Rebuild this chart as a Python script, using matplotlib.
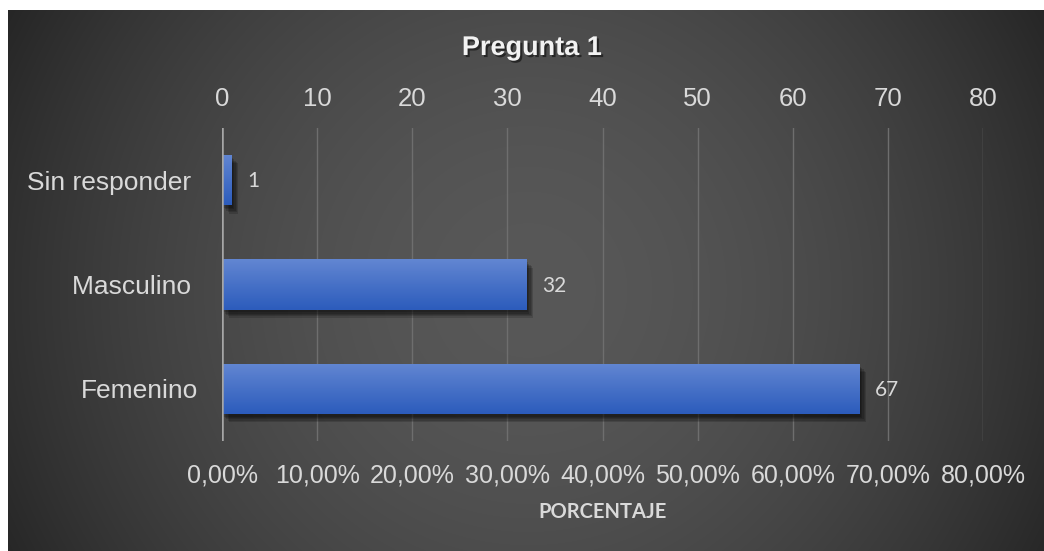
import numpy as np
import matplotlib
matplotlib.use("Agg")
import matplotlib.pyplot as plt
import matplotlib.patheffects as pe
from matplotlib.ticker import FixedLocator, FuncFormatter

plt.rcParams["font.family"] = ["Liberation Sans", "DejaVu Sans"]

# ---- data ----
categories = ["Femenino", "Masculino ", "Sin responder "]
values = [67, 32, 1]
ticks = [0, 10, 20, 30, 40, 50, 60, 70, 80]
title = "Pregunta 1"
xlabel = "PORCENTAJE"

W, H = 1044, 551
fig = plt.figure(figsize=(W / 100, H / 100), dpi=100, facecolor="white")

# ---- background radial gradient ----
bx0, by0 = 8, 10
bg = fig.add_axes([bx0 / W, 0, 1 - bx0 / W, 1 - by0 / H])
bg.set_axis_off()
nx, ny = W - bx0, H - by0
yy, xx = np.mgrid[0:ny, 0:nx]
cx, cy = 520, 280
rmax = np.hypot(max(cx, nx - cx), max(cy, ny - cy))
r = np.hypot(xx - cx, yy - cy) / rmax
f = np.clip(r, 0, 1) ** 1.8
c_in, c_out = 0x58 / 255, 0x26 / 255
val = c_in - (c_in - c_out) * f
img = np.dstack([val, val, val])
bg.imshow(img, aspect="auto", extent=[0, 1, 0, 1], origin="upper")
bg.set_xlim(0, 1)
bg.set_ylim(0, 1)

# ---- main axes ----
left, right = 222 / W, 983 / W
bottom, top = 1 - 441 / H, 1 - 128 / H
ax = fig.add_axes([left, bottom, right - left, top - bottom])
ax.patch.set_alpha(0)
for s in ax.spines.values():
    s.set_visible(False)

ypos = np.arange(len(categories))
shadow = [pe.SimplePatchShadow(offset=(o, -o - 1), shadow_rgbFace="black", alpha=0.16)
          for o in (1, 2, 3, 4, 5)]
bars = ax.barh(ypos, values, height=0.48, color="#4472c4", zorder=3,
               path_effects=shadow + [pe.Normal()])

# gradient fill on bars
grad = np.linspace(0, 1, 64).reshape(-1, 1)
top_c = np.array([0x62, 0x86, 0xd2]) / 255
bot_c = np.array([0x2c, 0x5c, 0xbc]) / 255
gimg = top_c[None, None, :] * (1 - grad[:, :, None]) + bot_c[None, None, :] * grad[:, :, None]
for b in bars:
    x0, y0 = b.get_x(), b.get_y()
    w, h = b.get_width(), b.get_height()
    im = ax.imshow(gimg, extent=[x0, x0 + w, y0, y0 + h], aspect="auto",
                   origin="upper", zorder=4)
    im.set_clip_path(b)
ax.set_aspect("auto")
ax.set_xlim(ticks[0], ticks[-1])
ax.set_ylim(-0.5, len(categories) - 0.5)

# gridlines
ax.xaxis.set_major_locator(FixedLocator(ticks))
ax.grid(axis="x", color="#6e6e6e", linewidth=1.0, zorder=1)
ax.axvline(0, color="#a6a6a6", linewidth=1.8, zorder=5)

# top tick labels
ax.xaxis.tick_top()
ax.tick_params(axis="x", length=0, pad=12, labelsize=18.5, labelcolor="#d9d9d9")

# y labels
ax.set_yticks(ypos)
ax.set_yticklabels(categories, fontsize=19, color="#d9d9d9")
ax.tick_params(axis="y", length=0, pad=17)

# bottom percentage axis
sec = ax.secondary_xaxis("bottom")
sec.xaxis.set_major_locator(FixedLocator(ticks))
sec.xaxis.set_major_formatter(FuncFormatter(lambda v, p: f"{v:.2f}".replace(".", ",") + "%"))
sec.tick_params(axis="x", length=0, pad=16, labelsize=18, labelcolor="#d9d9d9")
for s in sec.spines.values():
    s.set_visible(False)
sec.set_xlabel(xlabel, family="Lato", fontweight="bold", fontsize=14.5, color="#d9d9d9", labelpad=11)

# data labels
for yv, v in zip(ypos, values):
    ax.annotate(str(v), xy=(v, yv), xytext=(16, -1), textcoords="offset pixels",
                ha="left", va="center", family="Lato", fontsize=15, color="#d9d9d9", zorder=6)

# title
fig.text(532 / W, 1 - 48 / H, title, ha="center", va="center",
         fontweight="bold", fontsize=19.5, color="#f2f2f2",
         path_effects=[pe.withSimplePatchShadow(offset=(1.5, -1.5), shadow_rgbFace="black", alpha=0.5)])

fig.savefig("out.png", dpi=100, facecolor="white")
